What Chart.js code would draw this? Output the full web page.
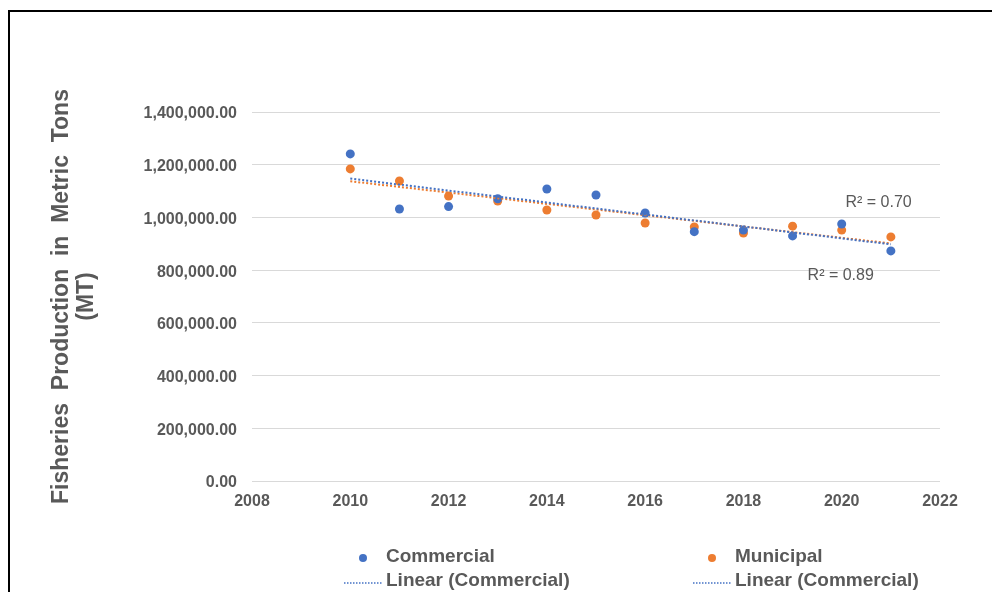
<!DOCTYPE html>
<html><head><meta charset="utf-8">
<script src="https://cdn.jsdelivr.net/npm/chart.js@4.4.1/dist/chart.umd.min.js"></script>
<style>
html,body{margin:0;padding:0;background:#fff;}
#wrap{position:relative;width:992px;height:592px;overflow:hidden;background:#fff;}
#frame{position:absolute;left:8px;top:10px;width:1200px;height:800px;border:2px solid #000;box-sizing:border-box;pointer-events:none;}
canvas{position:absolute;left:0;top:0;}
</style></head><body>
<div id="wrap"><canvas id="c" width="992" height="592"></canvas><div id="frame"></div></div>
<script>
const years = [2010, 2011, 2012, 2013, 2014, 2015, 2016, 2017, 2018, 2019, 2020, 2021];
const commercial = [1241000, 1032000, 1041000, 1071000, 1108000, 1085000, 1017000, 946000, 952000, 930000, 975000, 873000];
const municipal = [1184000, 1138000, 1081000, 1062000, 1028000, 1009000, 979000, 964000, 941000, 967000, 952000, 926000];
const xMin = 2008, xMax = 2022, xStep = 2;
const yMin = 0, yMax = 1400000, yStep = 200000;
const legendLabels = ['Commercial', 'Municipal', 'Linear (Commercial)', 'Linear (Commercial)'];
const yTitle = ['Fisheries  Production  in  Metric  Tons', '(MT)'];

const BLUE = '#4472C4', ORANGE = '#ED7D31', GRAY = '#595959';

function fit(xs, ys) {
  const n = xs.length;
  const mx = xs.reduce((a, b) => a + b, 0) / n;
  const my = ys.reduce((a, b) => a + b, 0) / n;
  let sxy = 0, sxx = 0, syy = 0;
  for (let i = 0; i < n; i++) {
    sxy += (xs[i] - mx) * (ys[i] - my);
    sxx += (xs[i] - mx) ** 2;
    syy += (ys[i] - my) ** 2;
  }
  const b = sxy / sxx, a = my - b * mx;
  return { a, b, r2: (sxy * sxy) / (sxx * syy) };
}
const fitC = fit(years, commercial);
const fitM = fit(years, municipal);
const x0 = years[0], x1 = years[years.length - 1];
const trendC = [{x: x0, y: fitC.a + fitC.b * x0}, {x: x1, y: fitC.a + fitC.b * x1}];
const trendM = [{x: x0, y: fitM.a + fitM.b * x0}, {x: x1, y: fitM.a + fitM.b * x1}];

const pts = arr => years.map((y, i) => ({x: y, y: arr[i]}));

const extras = {
  id: 'extras',
  afterDraw(chart) {
    const ctx = chart.ctx;
    const xs = chart.scales.x, ys = chart.scales.y;
    ctx.save();
    // R² labels
    ctx.font = '16px "Liberation Sans", Arial, sans-serif';
    ctx.fillStyle = GRAY;
    ctx.textAlign = 'center';
    ctx.textBaseline = 'middle';
    ctx.fillText('R² = ' + fitC.r2.toFixed(2), xs.getPixelForValue(2020.75), ys.getPixelForValue(1056000));
    ctx.fillText('R² = ' + fitM.r2.toFixed(2), xs.getPixelForValue(2019.98), ys.getPixelForValue(781000));
    // legend
    const ca = chart.chartArea;
    const colX = [ca.left + 134, ca.left + 483];
    const rowY = [ca.bottom + 76, ca.bottom + 100];
    ctx.font = 'bold 19px "Liberation Sans", Arial, sans-serif';
    ctx.textAlign = 'left';
    const dotColors = [BLUE, ORANGE];
    for (let c = 0; c < 2; c++) {
      ctx.fillStyle = dotColors[c];
      ctx.beginPath();
      ctx.arc(colX[c] - 23, rowY[0] + 1, 4, 0, Math.PI * 2);
      ctx.fill();
      ctx.fillStyle = GRAY;
      ctx.fillText(legendLabels[c], colX[c], rowY[0]);
      ctx.strokeStyle = BLUE;
      ctx.lineWidth = 1.5;
      ctx.setLineDash([1.5, 1.5]);
      ctx.beginPath();
      ctx.moveTo(colX[c] - 42, rowY[1] + 2);
      ctx.lineTo(colX[c] - 4, rowY[1] + 2);
      ctx.stroke();
      ctx.setLineDash([]);
      ctx.fillText(legendLabels[2 + c], colX[c], rowY[1]);
    }
    ctx.restore();
  }
};

new Chart(document.getElementById('c'), {
  type: 'scatter',
  data: {
    datasets: [
      {label: 'Commercial', data: pts(commercial), backgroundColor: BLUE, borderColor: BLUE, pointRadius: 4.5, pointBorderWidth: 0, order: 3},
      {label: 'Municipal', data: pts(municipal), backgroundColor: ORANGE, borderColor: ORANGE, pointRadius: 4.5, pointBorderWidth: 0, order: 4},
      {label: 'Linear (Commercial)', type: 'line', data: trendM, borderColor: ORANGE, borderWidth: 2, borderDash: [2, 2], pointRadius: 0, fill: false, order: 2},
      {label: 'Linear (Commercial)', type: 'line', data: trendC, borderColor: BLUE, borderWidth: 2, borderDash: [2, 2], pointRadius: 0, fill: false, order: 1}
    ]
  },
  options: {
    responsive: false,
    animation: false,
    devicePixelRatio: 1,
    layout: {padding: {top: 112, right: 52, bottom: 81, left: 0}},
    plugins: {legend: {display: false}, tooltip: {enabled: false}},
    scales: {
      x: {
        type: 'linear', min: xMin, max: xMax,
        ticks: {stepSize: xStep, color: GRAY, padding: 3, font: {family: '"Liberation Sans", Arial, sans-serif', size: 16, weight: 'bold'}, callback: v => String(v)},
        grid: {display: false},
        border: {display: false},
        afterFit: s => { s.height = 30; }
      },
      y: {
        min: yMin, max: yMax,
        ticks: {stepSize: yStep, color: GRAY, padding: 15, labelOffset: 2, font: {family: '"Liberation Sans", Arial, sans-serif', size: 16, weight: 'bold'},
          callback: v => Number(v).toLocaleString('en-US', {minimumFractionDigits: 2, maximumFractionDigits: 2})},
        grid: {color: '#d9d9d9', lineWidth: 1, drawTicks: false},
        border: {display: false},
        title: {display: true, text: yTitle, color: GRAY, padding: {top: 50, bottom: 0},
          font: {family: '"Liberation Sans", Arial, sans-serif', size: 23, weight: 'bold', lineHeight: 1.05}},
        afterFit: s => { s.width = 252; }
      }
    }
  },
  plugins: [extras]
});
</script>
</body></html>
